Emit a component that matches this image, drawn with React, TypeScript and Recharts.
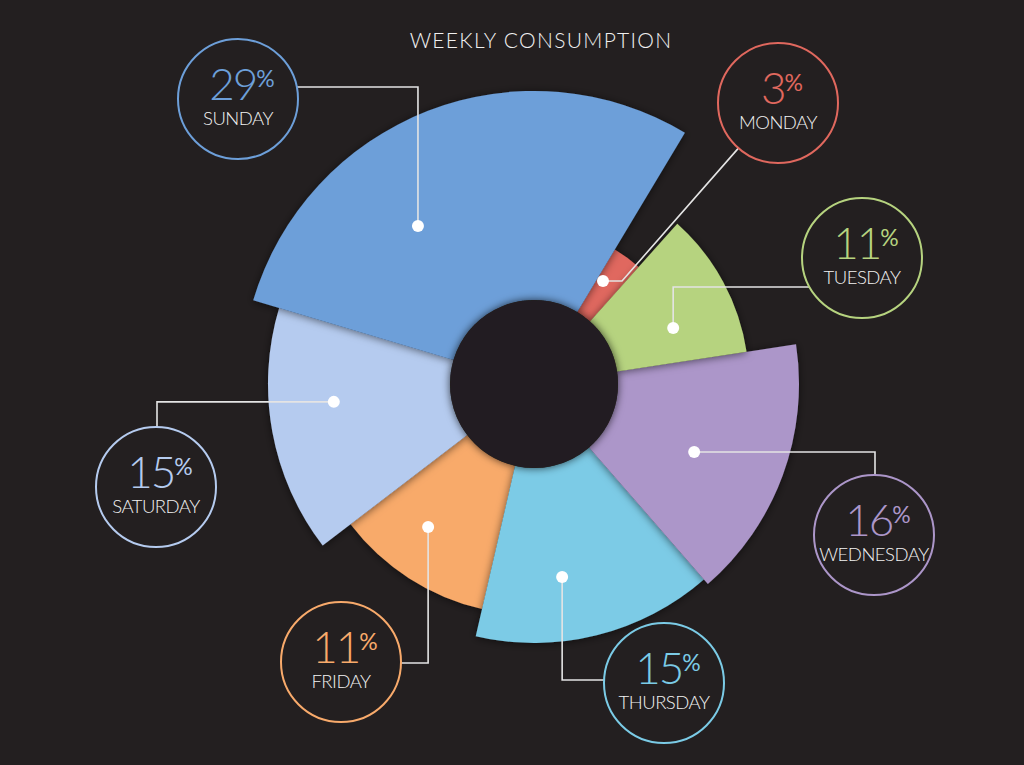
import React from "react";
import { PieChart, Pie, Cell } from "recharts";

// data
const days = ["MONDAY", "TUESDAY", "WEDNESDAY", "THURSDAY", "FRIDAY", "SATURDAY", "SUNDAY"];
const shares = [3, 11, 16, 15, 11, 15, 29];

// styling
const colors = ["#e0685e", "#b6d37f", "#ac96c9", "#7bcbe6", "#f8aa6b", "#b5cbef", "#6d9fd9"];
const reach = [157, 215, 265, 259, 231, 266, 293]; // outer radius of each slice
const drawOrder = [4, 3, 2, 0, 1, 5, 6]; // bottom -> top, so the shadows fall right

const BG = "#231f20";
const W = 1024;
const H = 765;
const CX = 534;
const CY = 384;
const HOLE = 84;
const BUBBLE = 60;
const START = 59;

type Callout = {
  dotAngle: number;
  dotR: number;
  circle: [number, number];
  path: "vh" | "hv" | "diag";
  bend: number;
};

const callouts: Callout[] = [
  { dotAngle: 56.2, dotR: 124, circle: [778, 103], path: "diag", bend: 19 },
  { dotAngle: 21.9, dotR: 150, circle: [862, 258], path: "vh", bend: 287 },
  { dotAngle: -23, dotR: 174, circle: [874, 535], path: "hv", bend: 875 },
  { dotAngle: -81.7, dotR: 195, circle: [664, 683], path: "vh", bend: 680 },
  { dotAngle: -126.5, dotR: 178, circle: [341, 662], path: "vh", bend: 663 },
  { dotAngle: -174.9, dotR: 201, circle: [156, 487], path: "hv", bend: 157 },
  { dotAngle: 126.3, dotR: 196, circle: [238, 99], path: "vh", bend: 87 },
];

const data = days.map((name, i) => ({ name, value: shares[i] }));

const leaderPoints = (c: Callout, x: number, y: number) => {
  const [bx, by] = c.circle;
  if (c.path === "vh") {
    const off = Math.sqrt(Math.max(0, BUBBLE * BUBBLE - (c.bend - by) ** 2));
    const ax = x < bx ? bx - off : bx + off;
    return [[x, y], [x, c.bend], [ax, c.bend]];
  }
  if (c.path === "hv") {
    const off = Math.sqrt(Math.max(0, BUBBLE * BUBBLE - (c.bend - bx) ** 2));
    const ay = y < by ? by - off : by + off;
    return [[x, y], [c.bend, y], [c.bend, ay]];
  }
  const ex = x + c.bend;
  const len = Math.hypot(bx - ex, by - y);
  return [[x, y], [ex, y], [bx - (BUBBLE * (bx - ex)) / len, by - (BUBBLE * (by - y)) / len]];
};

const renderCallout = (props: any) => {
  const { cx, cy, index, value, innerRadius } = props;
  const c = callouts[index];
  const color = colors[index];
  const rad = (Math.PI / 180) * c.dotAngle;
  const x = cx + c.dotR * Math.cos(rad);
  const y = cy - c.dotR * Math.sin(rad);
  const pts = leaderPoints(c, x, y).map((p) => p.join(",")).join(" ");
  const [bx, by] = c.circle;
  return (
    <g key={`callout-${index}`}>
      {index === 0 && <circle cx={cx} cy={cy} r={innerRadius} fill={BG} filter="url(#holeShadow)" />}
      <polyline points={pts} fill="none" stroke="#e4e4e4" strokeWidth={1.6} />
      <circle cx={x} cy={y} r={6} fill="#ffffff" />
      <circle cx={bx} cy={by} r={BUBBLE} fill="none" stroke={color} strokeWidth={2} />
      <text x={bx + 4} y={by + 1} textAnchor="middle" fontFamily="Lato" fill={color}>
        <tspan fontSize={44} fontWeight={300} letterSpacing={-2}>{value}</tspan>
        <tspan fontSize={23} fontWeight={400} dy={-13}>%</tspan>
      </text>
      <text
        x={bx}
        y={by + 26}
        textAnchor="middle"
        fontFamily="Lato"
        fontWeight={300}
        fontSize={18.5}
        letterSpacing={-0.5}
        fill="#f2f2f2"
      >
        {days[index]}
      </text>
    </g>
  );
};

export default function App() {
  return (
    <div style={{ width: W, height: H, background: BG }}>
      <style>{`body{margin:0;background:${BG};}`}</style>
      <PieChart width={W} height={H} margin={{ top: 0, right: 0, bottom: 0, left: 0 }}>
        <defs>
          <filter id="sliceShadow" x="-30%" y="-30%" width="160%" height="160%">
            <feDropShadow dx="0" dy="1" stdDeviation="4" floodColor="#000" floodOpacity="0.55" />
          </filter>
          <filter id="holeShadow" x="-30%" y="-30%" width="160%" height="160%">
            <feDropShadow dx="0" dy="0" stdDeviation="4" floodColor="#000" floodOpacity="0.7" />
          </filter>
        </defs>
        <text
          x={541}
          y={48}
          textAnchor="middle"
          fontFamily="Lato"
          fontWeight={300}
          fontSize={21}
          letterSpacing={1.3}
          fill="#f0f0f0"
        >
          WEEKLY CONSUMPTION
        </text>
        {drawOrder.map((k) => (
          <Pie
            key={days[k]}
            data={data}
            dataKey="value"
            nameKey="name"
            cx={CX}
            cy={CY}
            innerRadius={HOLE}
            outerRadius={reach[k]}
            startAngle={START}
            endAngle={START - 360}
            stroke="none"
            isAnimationActive={false}
          >
            {data.map((d, i) => (
              <Cell
                key={d.name}
                fill={i === k ? colors[i] : "transparent"}
                stroke="none"
                filter={i === k ? "url(#sliceShadow)" : undefined}
              />
            ))}
          </Pie>
        ))}
        <Pie
          data={data}
          dataKey="value"
          nameKey="name"
          cx={CX}
          cy={CY}
          innerRadius={HOLE}
          outerRadius={HOLE + 1}
          startAngle={START}
          endAngle={START - 360}
          fill="transparent"
          stroke="none"
          label={renderCallout}
          labelLine={false}
          isAnimationActive={false}
        />
      </PieChart>
    </div>
  );
}
